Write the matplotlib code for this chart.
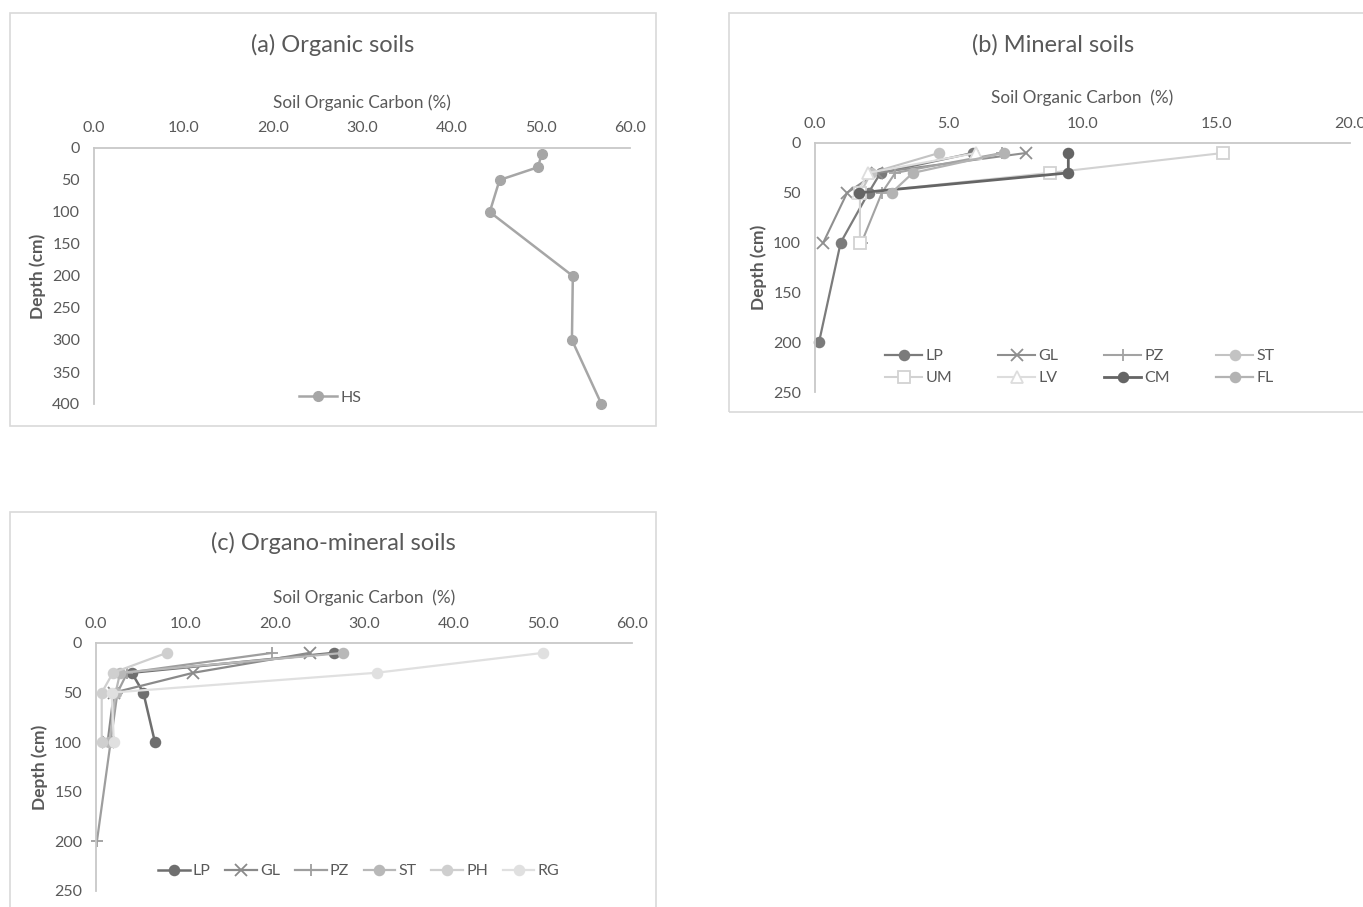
import matplotlib
matplotlib.use("Agg")
import matplotlib.pyplot as plt
from matplotlib.patches import Rectangle
from matplotlib.ticker import FormatStrFormatter

plt.rcParams['font.family'] = ['Lato', 'DejaVu Sans']

# (a) organic soils
hs_depth = [10, 30, 50, 100, 200, 300, 400]
hs_soc = [50.1, 49.7, 45.4, 44.3, 53.6, 53.5, 56.8]

# (b) mineral soils
b_names = ['LP', 'GL', 'PZ', 'ST', 'UM', 'LV', 'CM', 'FL']
b_depth = {
    'LP': [10, 30, 50, 100, 200],
    'GL': [10, 30, 50, 100],
    'PZ': [10, 30, 50, 100],
    'ST': [10, 30, 50],
    'UM': [10, 30, 50, 100],
    'LV': [10, 30, 50],
    'CM': [10, 30, 50],
    'FL': [10, 30, 50],
}
b_soc = {
    'LP': [5.9, 2.45, 2.0, 0.96, 0.15],
    'GL': [7.9, 2.3, 1.2, 0.31],
    'PZ': [7.0, 3.0, 2.5, 1.74],
    'ST': [4.64, 2.1, 1.7],
    'UM': [15.26, 8.77, 1.68, 1.68],
    'LV': [6.03, 1.98, 1.6],
    'CM': [9.47, 9.47, 1.65],
    'FL': [7.05, 3.66, 2.86],
}

# (c) organo-mineral soils
c_names = ['LP', 'GL', 'PZ', 'ST', 'PH', 'RG']
c_depth = {
    'LP': [10, 30, 50, 100],
    'GL': [10, 30, 50, 100],
    'PZ': [10, 30, 50, 200],
    'ST': [10, 30, 50, 100],
    'PH': [10, 30, 50, 100],
    'RG': [10, 30, 50, 100],
}
c_soc = {
    'LP': [26.6, 4.0, 5.3, 6.6],
    'GL': [23.9, 10.9, 2.0, 1.3],
    'PZ': [19.7, 3.5, 2.4, 0.1],
    'ST': [27.7, 2.7, 2.2, 1.5],
    'PH': [7.9, 1.9, 0.64, 0.64],
    'RG': [50.0, 31.4, 1.75, 2.0],
}

# line styles (colour, marker, marker face, linewidth)
b_style = {
    'LP': ('#7b7b7b', 'o', None, 1.6),
    'GL': ('#8f8f8f', 'x', None, 1.5),
    'PZ': ('#a3a3a3', '+', None, 1.5),
    'ST': ('#c3c3c3', 'o', None, 1.5),
    'UM': ('#d2d2d2', 's', 'white', 1.5),
    'LV': ('#dddddd', '^', 'white', 1.5),
    'CM': ('#656565', 'o', None, 2.0),
    'FL': ('#b3b3b3', 'o', None, 1.6),
}
c_style = {
    'LP': ('#6f6f6f', 'o', None, 1.8),
    'GL': ('#8a8a8a', 'x', None, 1.6),
    'PZ': ('#9e9e9e', '+', None, 1.6),
    'ST': ('#b8b8b8', 'o', None, 1.6),
    'PH': ('#cfcfcf', 'o', None, 1.6),
    'RG': ('#e0e0e0', 'o', None, 1.6),
}

txt = '#595959'
W, H = 1363, 907
fig = plt.figure(figsize=(W / 100, H / 100), dpi=100)


def px_axes(x0, x1, y0, y1):
    return fig.add_axes([x0 / W, 1 - y1 / H, (x1 - x0) / W, (y1 - y0) / H])


def frame(x0, x1, y0, y1):
    fig.add_artist(Rectangle((x0 / W, 1 - y1 / H), (x1 - x0) / W, (y1 - y0) / H,
                             transform=fig.transFigure, fill=False,
                             edgecolor='#d9d9d9', linewidth=1.2))


def title(x, y, s):
    fig.text(x / W, 1 - y / H, s, fontsize=17, color=txt, ha='center', va='center')


def style_axes(ax, xmax, xstep, ymax, xlabel):
    ax.set_xlim(0, xmax)
    ax.set_ylim(ymax, 0)
    ax.set_xticks(range(0, xmax + 1, xstep))
    ax.set_yticks(range(0, ymax + 1, 50))
    ax.xaxis.set_major_formatter(FormatStrFormatter('%.1f'))
    ax.xaxis.tick_top()
    ax.xaxis.set_label_position('top')
    ax.tick_params(length=0, labelsize=11.5, colors=txt, pad=9)
    ax.tick_params(axis='y', pad=10)
    for s in ['right', 'bottom']:
        ax.spines[s].set_visible(False)
    for s in ['left', 'top']:
        ax.spines[s].set_color('#c8c8c8')
        ax.spines[s].set_linewidth(1.3)
    ax.set_xlabel(xlabel, fontsize=12.3, color=txt, labelpad=10)
    ax.set_ylabel('Depth (cm)', fontsize=12.5, color=txt, fontweight='bold', labelpad=4)


# panel a
frame(10, 656, 13, 426)
title(333, 45, '(a) Organic soils')
ax_a = px_axes(94, 630, 148, 404)
ax_a.plot(hs_soc, hs_depth, color='#a6a6a6', marker='o', markersize=7,
          linewidth=1.8, label='HS', clip_on=False)
style_axes(ax_a, 60, 10, 400, 'Soil Organic Carbon (%)')
ax_a.legend(loc='center', bbox_to_anchor=(0.44, 0.025), frameon=False,
            fontsize=11.5, handlelength=2.4, handletextpad=0.2, labelcolor=txt)

# panel b
frame(729, 1375, 13, 412)
title(1053, 45, '(b) Mineral soils')
ax_b = px_axes(815, 1350, 143, 392)
lines_b = {}
for n in b_names:
    col, mk, mf, lw = b_style[n]
    lines_b[n], = ax_b.plot(b_soc[n], b_depth[n], color=col, marker=mk,
                            markersize=8 if mk in 'x+s^' else 7,
                            markerfacecolor=mf if mf else col, markeredgecolor=col,
                            markeredgewidth=1.3, linewidth=lw, label=n, clip_on=False)
style_axes(ax_b, 20, 5, 250, 'Soil Organic Carbon  (%)')
# legend fills column by column, so interleave to get rows LP GL PZ ST / UM LV CM FL
order_b = [b_names[i // 2 + 4 * (i % 2)] for i in range(8)]
ax_b.legend([lines_b[n] for n in order_b], order_b, loc='center',
            bbox_to_anchor=(0.495, 0.1), ncol=4, frameon=False,
            fontsize=11.5, handlelength=2.3, handletextpad=0.2, columnspacing=2.9,
            labelspacing=0.5, labelcolor=txt)

# panel c
frame(10, 656, 512, 920)
title(333, 543, '(c) Organo-mineral soils')
ax_c = px_axes(96, 632, 643, 891)
for n in c_names:
    col, mk, mf, lw = c_style[n]
    ax_c.plot(c_soc[n], c_depth[n], color=col, marker=mk, markersize=8 if mk in 'x+' else 7,
              markerfacecolor=col, markeredgecolor=col, markeredgewidth=1.3,
              linewidth=lw, label=n, clip_on=False)
style_axes(ax_c, 60, 10, 250, 'Soil Organic Carbon  (%)')
ax_c.legend(loc='center', bbox_to_anchor=(0.49, 0.08), ncol=6, frameon=False,
            fontsize=11.5, handlelength=2.0, handletextpad=0.2, columnspacing=0.9,
            labelcolor=txt)

fig.savefig('out.png', dpi=100, facecolor='white')
